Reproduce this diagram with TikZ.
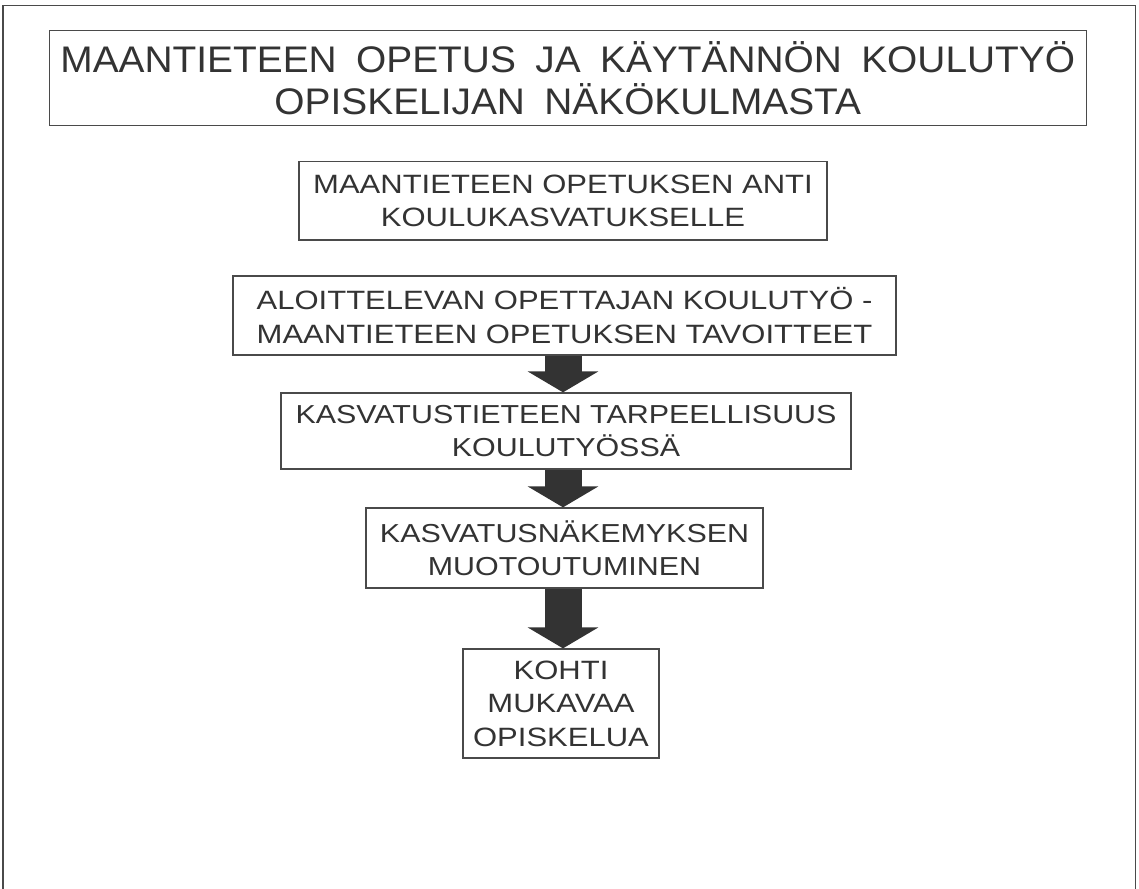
\documentclass[tikz,border=0pt]{standalone}
\usepackage{fontspec}
\setmainfont{Liberation Sans}
\newfontfamily\titlefont[FakeStretch=1.05,WordSpace=1.8]{Liberation Sans}
\newfontfamily\boxfont[FakeStretch=1.17]{Liberation Sans}
\usetikzlibrary{arrows.meta}
\definecolor{ink}{HTML}{333333}
\definecolor{rulegray}{HTML}{4A4A4A}
\begin{document}
\begin{tikzpicture}[x=1pt,y=-1pt,
  frameline/.style={draw=rulegray,line width=1.3pt},
  titlebox/.style={frameline,rectangle,inner sep=0pt,align=center,text=ink,
    font=\titlefont\fontsize{37}{42}\selectfont},
  stepbox/.style={frameline,rectangle,inner sep=0pt,align=center,text=ink},
  boxtext/.style={font=\boxfont\fontsize{#1}{33.5}\selectfont},
  bigarrow/.style={draw=ink,line width=37pt,-{Triangle[width=70pt,length=21pt]}},
]
\useasboundingbox[fill=white] (0,0) rectangle (1139,888);
\coordinate (axis) at (563,0);
\draw[frameline] (3,890) -- (3,5.5) -- (1135.5,5.5) -- (1135.5,890);

\node[titlebox,minimum width=1037pt,minimum height=95pt] (title) at (567.75,78)
  {MAANTIETEEN OPETUS JA KÄYTÄNNÖN KOULUTYÖ\\OPISKELIJAN NÄKÖKULMASTA};

\node[stepbox,boxtext=26.5,minimum width=528pt,minimum height=78.5pt] (b2) at (563,200.75)
  {MAANTIETEEN OPETUKSEN ANTI\\KOULUKASVATUKSELLE};

\node[stepbox,boxtext=26.5,minimum width=663pt,minimum height=79pt] (b3) at (564.5,315.5)
  {ALOITTELEVAN OPETTAJAN KOULUTYÖ -\\MAANTIETEEN OPETUKSEN TAVOITTEET};

\node[stepbox,boxtext=26,minimum width=570pt,minimum height=76pt] (b4) at (566,431)
  {KASVATUSTIETEEN TARPEELLISUUS\\KOULUTYÖSSÄ};

\node[stepbox,boxtext=26,minimum width=397pt,minimum height=80pt] (b5) at (564.5,548)
  {KASVATUSNÄKEMYKSEN\\MUOTOUTUMINEN};

\node[stepbox,boxtext=26.5,minimum width=196pt,minimum height=109pt] (b6) at (561,703.5)
  {KOHTI\\MUKAVAA\\OPISKELUA};

\draw[bigarrow] (axis |- b3.south) -- (axis |- b4.north);
\draw[bigarrow] (axis |- b4.south) -- (axis |- b5.north);
\draw[bigarrow] (axis |- b5.south) -- (axis |- b6.north);
\end{tikzpicture}
\end{document}
